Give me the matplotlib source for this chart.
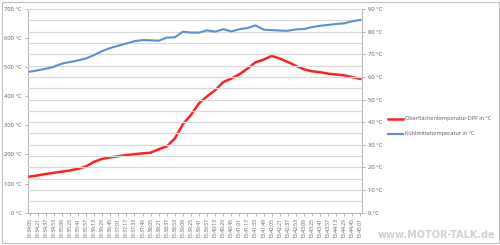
import matplotlib
matplotlib.use("Agg")
import matplotlib.pyplot as plt
from matplotlib.patches import Rectangle
from datetime import datetime, timedelta

# ---- data ----
start = datetime(2000, 1, 1, 13, 34, 5)
times = [(start + timedelta(seconds=16 * i)).strftime("%H:%M:%S") for i in range(42)]

dpf_temp = [124, 128, 133, 137, 141, 145, 151, 159, 175, 185,
            190, 194, 198, 201, 204, 206, 218, 228, 255, 304,
            336, 376, 400, 421, 449, 461, 476, 495, 517, 526,
            539, 530, 518, 505, 493, 486, 483, 478, 475, 472,
            466, 460]

coolant_temp = [62.3, 62.9, 63.6, 64.5, 65.9, 66.6, 67.3, 68.2, 69.7, 71.4,
                72.8, 73.8, 74.8, 75.8, 76.3, 76.2, 76.0, 77.4, 77.5, 80.0,
                79.6, 79.6, 80.6, 80.0, 81.1, 80.1, 81.1, 81.6, 82.8, 80.9,
                80.7, 80.5, 80.4, 81.0, 81.2, 82.0, 82.6, 83.0, 83.4, 83.7,
                84.6, 85.2]

left_ticks = list(range(0, 701, 100))
right_ticks = list(range(0, 91, 10))

label_dpf = "Oberflächentemperatur DPF in °C"
label_cool = "Kühlmitteltemperatur in °C"

plt.rcParams['font.family'] = ['Open Sans', 'DejaVu Sans']

fig = plt.figure(figsize=(5, 2.45), dpi=100)
ax = fig.add_axes([0.056, 0.132, 0.668, 0.831])
ax2 = ax.twinx()

x = list(range(len(times)))
grid_c = "#d9d9d9"
axis_c = "#a6a6a6"
text_c = "#595959"

# gridlines every 5 on right axis
for v in range(5, 91, 5):
    ax2.axhline(v, color=grid_c, lw=0.9, zorder=0)

l1, = ax.plot(x, dpf_temp, color="#ff2020", lw=1.8, zorder=3, label=label_dpf)
l2, = ax2.plot(x, coolant_temp, color="#5b8fd8", lw=1.5, zorder=3, label=label_cool)

ax.set_xlim(-0.2, len(times) - 0.8)
ax.set_ylim(0, 700)
ax2.set_ylim(0, 90)

ax.set_yticks(left_ticks)
ax.set_yticklabels([f"{v} °C" for v in left_ticks])
ax2.set_yticks(right_ticks)
ax2.set_yticklabels([f"{v} °C" for v in right_ticks])

ax.set_xticks(x)
ax.set_xticklabels(times, rotation=90, fontsize=3.6, color=text_c)

for a in (ax, ax2):
    a.tick_params(axis='y', labelsize=4.2, labelcolor=text_c, color=axis_c,
                  length=2.5, width=0.6, pad=2)
    for s in a.spines.values():
        s.set_visible(False)
ax.tick_params(axis='x', color=axis_c, length=2.5, width=0.6, pad=1.5)
ax.spines['left'].set_visible(True)
ax.spines['left'].set_color(axis_c)
ax.spines['left'].set_linewidth(0.6)
ax2.spines['right'].set_visible(True)
ax2.spines['right'].set_color(axis_c)
ax2.spines['right'].set_linewidth(0.6)
ax.spines['bottom'].set_visible(True)
ax.spines['bottom'].set_color(axis_c)
ax.spines['bottom'].set_linewidth(0.6)

leg = fig.legend(handles=[l1, l2], loc="upper left", bbox_to_anchor=(0.765, 0.545),
                 frameon=False, fontsize=4.0, handlelength=2.8, labelspacing=1.8,
                 handletextpad=0.3, labelcolor=text_c)

# chart border
fig.patches.append(Rectangle((0.003, 0.008), 0.994, 0.984, transform=fig.transFigure,
                             fill=False, edgecolor="#bfbfbf", lw=0.8))

fig.text(0.99, 0.02, "www.MOTOR-TALK.de", ha="right", va="bottom", fontsize=7,
         fontweight="bold", color="#d0d0d0", family=["DejaVu Sans"])

fig.savefig("out.png", dpi=100)
